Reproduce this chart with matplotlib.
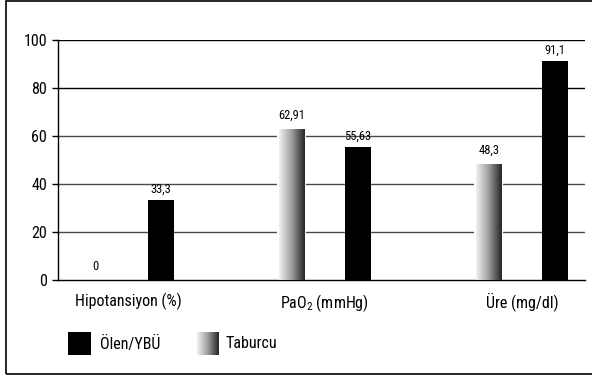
import numpy as np
import matplotlib
matplotlib.use("Agg")
import matplotlib.pyplot as plt
from matplotlib.colors import LinearSegmentedColormap
from matplotlib.patches import Rectangle

plt.rcParams['font.family'] = ['Roboto Condensed', 'Liberation Sans Narrow', 'Roboto', 'DejaVu Sans']
plt.rcParams['mathtext.fontset'] = 'custom'
plt.rcParams['mathtext.rm'] = 'Roboto Condensed'
plt.rcParams['mathtext.it'] = 'Roboto Condensed'

# data
categories = ["Hipotansiyon (%)", "PaO$_2$ (mmHg)", "Üre (mg/dl)"]
taburcu = [0, 62.91, 48.3]
olen = [33.3, 55.63, 91.1]
taburcu_labels = ["0", "62,91", "48,3"]
olen_labels = ["33,3", "55,63", "91,1"]
yticks = [0, 20, 40, 60, 80, 100]

grad_cmap = LinearSegmentedColormap.from_list(
    "grad", [(0, "#f2f2f2"), (0.5, "#9c9c9c"), (0.9, "#3a3a3a"), (1, "#262626")])
gradient = np.linspace(0, 1, 256).reshape(1, -1)

fig = plt.figure(figsize=(5.92, 3.77), dpi=100)
ax = fig.add_axes([0.098, 0.257, 0.890, 0.637])

x = np.arange(len(categories))
off = 0.1675
w = 0.132

# horizontal grid lines, top two darker
for t in yticks[1:]:
    ax.axhline(t, color="#000000" if t >= 80 else "#4a4a4a", lw=1.0, zorder=1)

bars_t = ax.bar(x - off, taburcu, w, color="none", edgecolor="none", zorder=3)
bars_o = ax.bar(x + off, olen, w, color="black", zorder=3)

for b in bars_t:
    if b.get_height() <= 0:
        continue
    x0, y0 = b.get_x(), b.get_y()
    im = ax.imshow(gradient, cmap=grad_cmap, aspect="auto", zorder=3,
                   extent=[x0, x0 + b.get_width(), y0, y0 + b.get_height()])
    im.set_clip_path(b)
    # thin white rim that breaks the grid lines
    ax.add_patch(Rectangle((x0 - 0.008, y0), b.get_width() + 0.016, b.get_height(),
                           facecolor="white", edgecolor="none", zorder=2))

for b, lab in zip(bars_t, taburcu_labels):
    ax.annotate(lab, (b.get_x() + b.get_width() / 2, b.get_height()),
                xytext=(0, 5), textcoords="offset points",
                ha="center", va="bottom", fontsize=9, zorder=4)
for b, lab in zip(bars_o, olen_labels):
    ax.annotate(lab, (b.get_x() + b.get_width() / 2, b.get_height()),
                xytext=(0, 3), textcoords="offset points",
                ha="center", va="bottom", fontsize=9, zorder=4)

ax.set_xlim(-0.355, 2.32)
ax.set_ylim(0, 100)
ax.set_yticks(yticks)
ax.tick_params(axis="y", direction="out", length=4, width=1, labelsize=11.5, pad=4)
ax.set_xticks(x)
ax.set_xticklabels(categories, fontsize=11.5)
ax.tick_params(axis="x", length=0, pad=9)

for s in ["top", "right"]:
    ax.spines[s].set_visible(False)
ax.spines["left"].set_linewidth(1)
ax.spines["bottom"].set_linewidth(1)

# legend built by hand
fig.patches.append(Rectangle((68 / 592, 1 - 355 / 377), 23 / 592, 23 / 377,
                             transform=fig.transFigure, facecolor="black",
                             edgecolor="none"))
fig.text(100 / 592, 1 - 344 / 377, "Ölen/YBÜ", fontsize=11.5, va="center")
lax = fig.add_axes([197 / 592, 1 - 355 / 377, 22 / 592, 23 / 377])
lax.imshow(gradient, cmap=grad_cmap, aspect="auto")
lax.axis("off")
fig.text(225 / 592, 1 - 344 / 377, "Taburcu", fontsize=11.5, va="center")

# frame around the chart (open on the right)
fig.patches.append(Rectangle((6 / 592, 1 - 374 / 377), 3.0, 373 / 377,
                             transform=fig.transFigure, facecolor="none",
                             edgecolor="black", lw=1.2))

fig.savefig("out.png", dpi=100)
